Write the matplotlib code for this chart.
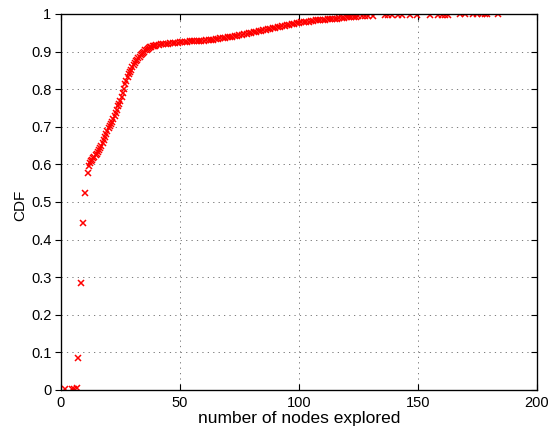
import matplotlib
matplotlib.use("Agg")
import matplotlib.pyplot as plt

plt.rcParams['font.family'] = ['Liberation Sans', 'DejaVu Sans']

# low end of the distribution
low_x = [1.7, 4.5, 5.5, 6.6, 7.3, 8.3, 9.4, 10.1, 11.2, 11.7]
low_y = [0.002, 0.002, 0.003, 0.004, 0.086, 0.285, 0.443, 0.525, 0.577, 0.597]

# steep part
steep_x = [12.0, 12.5, 13.0, 13.5, 14.0, 14.5, 15.0, 15.5, 16.0, 16.5, 17.0, 17.5,
           18.0, 18.5, 19.0, 19.5, 20.0, 20.5, 21.0, 21.5, 22.0, 22.5, 23.0, 23.5,
           24.0, 24.5, 25.0, 25.5, 26.0, 26.5, 27.0, 27.5, 28.0, 28.5, 29.0, 29.5,
           30.0, 30.5, 31.0, 31.5, 32.0, 32.5, 33.0, 33.5, 34.0, 34.5, 35.0, 35.5,
           36.0, 36.5, 37.0, 37.5, 38.0, 38.5, 39.0, 39.5]
steep_y = [0.603, 0.610, 0.613, 0.617, 0.620, 0.624, 0.628, 0.633, 0.638, 0.644, 0.650, 0.657,
           0.665, 0.672, 0.680, 0.688, 0.696, 0.702, 0.708, 0.714, 0.720, 0.728, 0.736, 0.745,
           0.754, 0.761, 0.769, 0.779, 0.789, 0.801, 0.813, 0.823, 0.833, 0.840, 0.846, 0.852,
           0.858, 0.864, 0.869, 0.874, 0.878, 0.882, 0.886, 0.890, 0.893, 0.897, 0.900, 0.903,
           0.905, 0.907, 0.909, 0.911, 0.912, 0.914, 0.915, 0.916]

# slow tail
flat_x = list(range(40, 126))
flat_y = [0.917, 0.918, 0.919, 0.919, 0.920, 0.921, 0.922, 0.923, 0.924, 0.924,
          0.925, 0.925, 0.926, 0.926, 0.927, 0.927, 0.928, 0.928, 0.928, 0.929,
          0.929, 0.930, 0.931, 0.931, 0.932, 0.933, 0.934, 0.935, 0.936, 0.937,
          0.938, 0.939, 0.940, 0.941, 0.942, 0.943, 0.944, 0.946, 0.947, 0.949,
          0.950, 0.951, 0.953, 0.954, 0.956, 0.957, 0.958, 0.960, 0.961, 0.962,
          0.963, 0.965, 0.966, 0.967, 0.969, 0.970, 0.972, 0.973, 0.974, 0.976,
          0.977, 0.978, 0.979, 0.980, 0.980, 0.981, 0.982, 0.983, 0.983, 0.984,
          0.985, 0.985, 0.986, 0.986, 0.987, 0.988, 0.988, 0.989, 0.989, 0.990,
          0.991, 0.991, 0.992, 0.992, 0.993, 0.994]

# sparse outliers at the top
tail_x = [126.3, 127.7, 129.1, 131.2, 136.1, 137.5, 138.9, 141.7, 143.1, 146.6, 149.4,
          155.0, 158.5, 159.9, 161.3, 162.7, 167.6, 169.7, 173.2, 174.6, 176.8, 178.2,
          179.1, 183.7]
tail_y = [0.9950, 0.9952, 0.9955, 0.9957, 0.9960, 0.9963, 0.9965, 0.9968, 0.9970, 0.9972,
          0.9975, 0.9978, 0.9980, 0.9982, 0.9984, 0.9986, 0.9988, 0.9990, 0.9992, 0.9994,
          0.9996, 0.9997, 0.9998, 1.0]

xs = low_x + steep_x + flat_x + tail_x
ys = low_y + steep_y + flat_y + tail_y

yticks = [0, 0.1, 0.2, 0.3, 0.4, 0.5, 0.6, 0.7, 0.8, 0.9, 1]
ytick_labels = ['0', '0.1', '0.2', '0.3', '0.4', '0.5', '0.6', '0.7', '0.8', '0.9', '1']
xticks = [0, 50, 100, 150, 200]

fig = plt.figure(figsize=(5.56, 4.28), dpi=100)
ax = fig.add_axes([0.1097, 0.0888, 0.8561, 0.8785])

ax.plot(xs, ys, linestyle='none', marker='x', color='red', markersize=5, mew=1.1)

ax.set_xlim(0, 200)
ax.set_ylim(0, 1)
ax.set_xticks(xticks)
ax.set_yticks(yticks)
ax.set_yticklabels(ytick_labels)

ax.grid(True, color='0.4', linestyle=(0, (1.5, 5)), linewidth=0.6)
ax.tick_params(axis='x', direction='in', top=True, length=4, width=0.8, labelsize=10.5, pad=4.5)
ax.tick_params(axis='y', direction='out', right=False, length=4, width=0.8, labelsize=10.5, pad=3)
for s in ax.spines.values():
    s.set_linewidth(0.9)

# right side ticks point inward
twin = ax.twinx()
twin.set_ylim(0, 1)
twin.set_yticks(yticks)
twin.tick_params(axis='y', direction='in', length=4, width=0.8, labelright=False)

ax.set_xlabel('number of nodes explored', fontsize=12.5, labelpad=0.5)
ax.set_ylabel('CDF', fontsize=11)
ax.yaxis.set_label_coords(-0.07, 0.49)

plt.savefig('out.png', dpi=100)
plt.close()
